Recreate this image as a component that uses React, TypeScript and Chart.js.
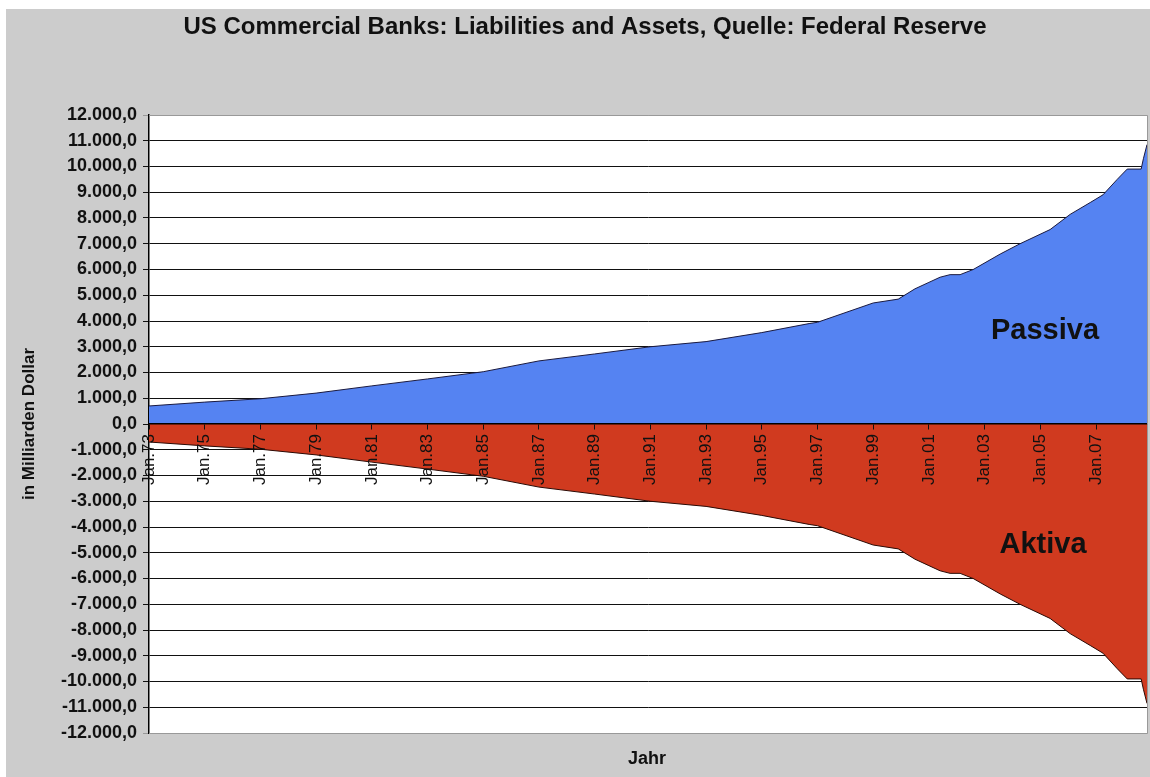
import React, { useEffect, useRef } from "react";
import { Chart, registerables } from "chart.js";

Chart.register(...registerables);

// Time positions (decimal years) of the read points
const years = [
  1973.0, 1975.0, 1977.0, 1979.0, 1981.0, 1983.0, 1985.0, 1987.0, 1989.0, 1991.0,
  1993.0, 1995.0, 1996.7, 1997.0, 1999.0, 1999.9, 2000.5, 2001.0, 2001.4, 2001.76,
  2002.12, 2002.59, 2003.56, 2004.27, 2005.35, 2006.07, 2006.79, 2007.25, 2007.76,
  2008.12, 2008.62, 2008.7, 2008.83,
];

// Passiva (liabilities), Mrd. Dollar
const passiva = [
  700, 850, 980, 1200, 1480, 1750, 2030, 2450, 2720, 3000,
  3200, 3550, 3900, 3950, 4700, 4850, 5250, 5500, 5700, 5800,
  5800, 6000, 6600, 7000, 7550, 8140, 8600, 8900, 9500,
  9900, 9900, 10300, 10850,
];

// Aktiva (assets), shown negative, Mrd. Dollar
const aktiva = [
  -700, -850, -980, -1200, -1480, -1750, -2030, -2450, -2720, -3000,
  -3200, -3550, -3900, -3950, -4700, -4850, -5250, -5500, -5700, -5800,
  -5800, -6000, -6600, -7000, -7550, -8140, -8600, -8900, -9500,
  -9900, -9900, -10300, -10850,
];

const tickYears = [1973, 1975, 1977, 1979, 1981, 1983, 1985, 1987, 1989, 1991, 1993, 1995, 1997, 1999, 2001, 2003, 2005, 2007];

const titleText = "US Commercial Banks: Liabilities and Assets, Quelle: Federal Reserve";
const yTitle = "in Milliarden Dollar";
const xTitle = "Jahr";

const FONT = "'Liberation Sans', Arial, sans-serif";

function fmtDE(v: number): string {
  const neg = v < 0;
  const a = Math.abs(Math.round(v));
  const s = String(a).replace(/\B(?=(\d{3})+(?!\d))/g, ".");
  return (neg ? "-" : "") + s + ",0";
}

const decorPlugin = {
  id: "decor",
  beforeDraw(chart: any) {
    const { ctx, chartArea } = chart;
    ctx.save();
    ctx.fillStyle = "#cccccc";
    ctx.fillRect(0, 0, chart.width, chart.height);
    ctx.fillStyle = "#ffffff";
    ctx.fillRect(chartArea.left, chartArea.top, chartArea.right - chartArea.left, chartArea.bottom - chartArea.top);
    ctx.restore();
  },
  afterDraw(chart: any) {
    const { ctx, chartArea } = chart;
    ctx.save();
    ctx.strokeStyle = "#999";
    ctx.lineWidth = 1;
    ctx.beginPath();
    ctx.moveTo(chartArea.left, chartArea.top + 0.5);
    ctx.lineTo(chartArea.right + 0.5, chartArea.top + 0.5);
    ctx.lineTo(chartArea.right + 0.5, chartArea.bottom + 0.5);
    ctx.lineTo(chartArea.left, chartArea.bottom + 0.5);
    ctx.stroke();

    ctx.fillStyle = "#111";
    ctx.textAlign = "center";
    ctx.textBaseline = "middle";
    ctx.font = `bold 24px ${FONT}`;
    ctx.fillText(titleText, 579, 18);
    ctx.font = `bold 18px ${FONT}`;
    ctx.fillText(xTitle, 641, 750);
    ctx.font = `bold 29px ${FONT}`;
    ctx.fillText("Passiva", 1039, 322);
    ctx.fillText("Aktiva", 1037, 536);
    ctx.restore();
  },
};

export default function App() {
  const ref = useRef<HTMLCanvasElement | null>(null);
  useEffect(() => {
    if (!ref.current) return;
    const chart = new Chart(ref.current, {
      type: "line",
      data: {
        datasets: [
          {
            label: "Passiva",
            data: years.map((x, i) => ({ x, y: passiva[i] })),
            backgroundColor: "#5583f2",
            borderColor: "#1a1a40",
            borderWidth: 1,
            fill: "origin",
            pointRadius: 0,
            tension: 0,
          },
          {
            label: "Aktiva",
            data: years.map((x, i) => ({ x, y: aktiva[i] })),
            backgroundColor: "#d03a1f",
            borderColor: "#2a0a05",
            borderWidth: 1,
            fill: "origin",
            pointRadius: 0,
            tension: 0,
          },
        ],
      },
      options: {
        responsive: false,
        animation: false,
        events: [],
        layout: { padding: { top: 106, left: 0, right: 3, bottom: 44 } },
        plugins: {
          legend: { display: false },
          tooltip: { enabled: false },
          title: { display: false },
        },
        scales: {
          x: {
            type: "linear",
            position: { y: 0 } as any,
            min: 1973,
            max: 2008.83,
            afterBuildTicks: (scale: any) => {
              scale.ticks = tickYears.map((v) => ({ value: v }));
            },
            grid: { drawOnChartArea: false, tickLength: 5, color: "#111", z: 1 },
            border: { display: true, color: "#000", width: 1.5, z: 1 },
            ticks: {
              z: 1,
              autoSkip: false,
              minRotation: 90,
              maxRotation: 90,
              padding: 5,
              color: "#111",
              font: { family: FONT, size: 17 },
              callback: (v: any) => "Jan." + String(Number(v) % 100).padStart(2, "0"),
            },
          },
          y: {
            type: "linear",
            min: -12000,
            max: 12000,
            afterFit: (scale: any) => {
              scale.width = 143;
            },
            border: { display: true, color: "#000", width: 1.5 },
            grid: {
              color: (c: any) => (Math.abs(c.tick?.value) === 12000 ? "#999" : "#111"),
              lineWidth: 1,
              tickLength: 6,
            },
            ticks: {
              stepSize: 1000,
              autoSkip: false,
              padding: 6,
              color: "#111",
              font: { family: FONT, size: 18, weight: "bold" },
              callback: (v: any) => fmtDE(Number(v)),
            },
            title: {
              display: true,
              text: yTitle,
              color: "#111",
              font: { family: FONT, size: 17, weight: "bold" },
              padding: { top: 13, bottom: 0 },
            },
          },
        },
      },
      plugins: [decorPlugin],
    } as any);
    return () => chart.destroy();
  }, []);

  return (
    <div style={{ position: "fixed", left: 6, top: 9, width: 1144, height: 768 }}>
      <canvas ref={ref} width={1144} height={768} style={{ width: 1144, height: 768, display: "block" }} />
    </div>
  );
}
